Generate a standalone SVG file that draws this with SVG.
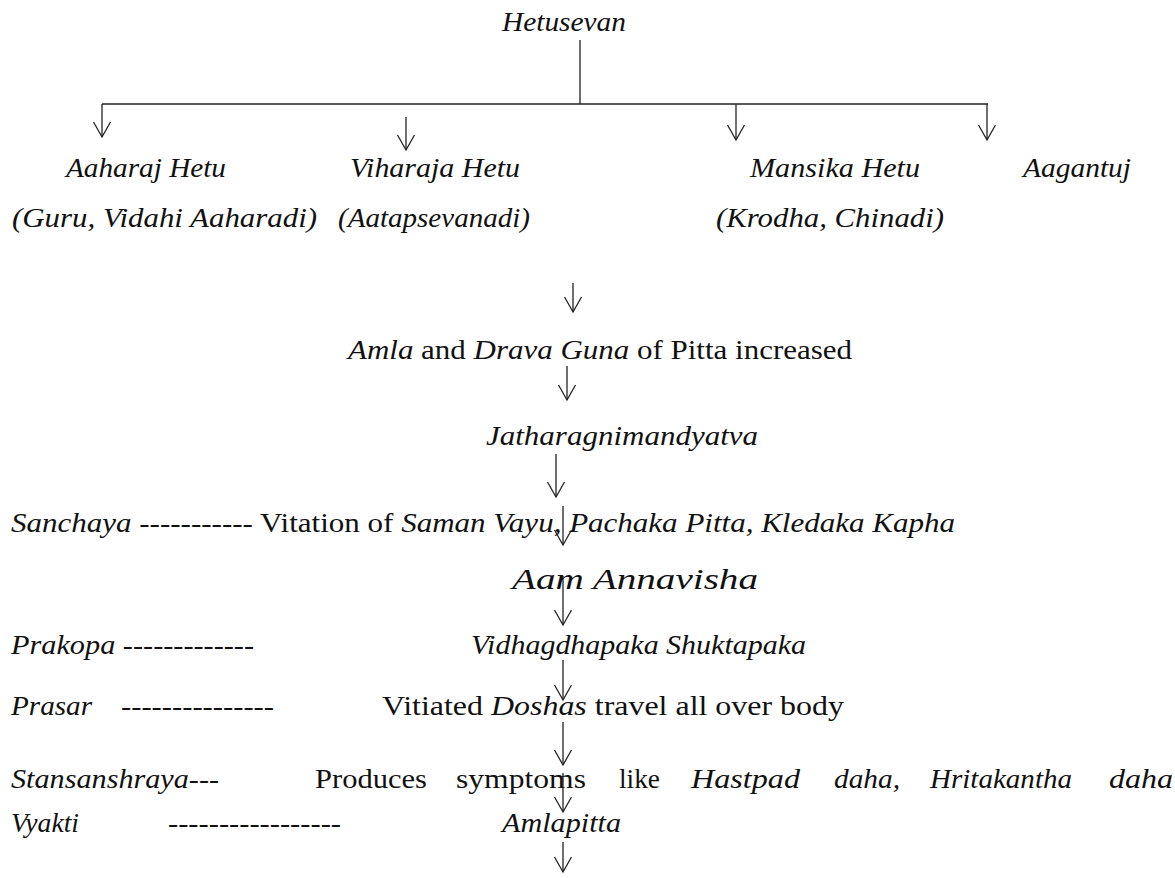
<svg xmlns="http://www.w3.org/2000/svg" width="1175" height="878" viewBox="0 0 1175 878">
<style>
.i{font-style:italic}
.r{font-style:normal}
.c{stroke:#222;stroke-width:1.3;fill:none}
</style>
<defs>
<marker id="ah" markerUnits="userSpaceOnUse" markerWidth="20" markerHeight="22" viewBox="-17 -11 19 22" refX="0" refY="0" orient="auto">
<path d="M-15,-8.5 L0,0 L-15,8.5" stroke="#222" stroke-width="1.3" fill="none"/>
</marker>
</defs>
<rect width="1175" height="878" fill="#fff"/>
<g id="connectors">
<path class="c" d="M580,40 V104 M102,104 H988"/>
<path class="c" d="M102,104 V137" marker-end="url(#ah)"/>
<path class="c" d="M406,117 V150" marker-end="url(#ah)"/>
<path class="c" d="M736,104 V140" marker-end="url(#ah)"/>
<path class="c" d="M987,104 V140" marker-end="url(#ah)"/>
<path class="c" d="M573,283 V312" marker-end="url(#ah)"/>
<path class="c" d="M567,366 V400" marker-end="url(#ah)"/>
<path class="c" d="M556,454 V497" marker-end="url(#ah)"/>
<path class="c" d="M563,506 V545" marker-end="url(#ah)"/>
<path class="c" d="M563,576 V625" marker-end="url(#ah)"/>
<path class="c" d="M563,660 V700" marker-end="url(#ah)"/>
<path class="c" d="M563,722 V765" marker-end="url(#ah)"/>
<path class="c" d="M563,773 V812" marker-end="url(#ah)"/>
<path class="c" d="M563,842 V872" marker-end="url(#ah)"/>
</g>
<g font-family="Liberation Serif, Times New Roman, serif" font-size="28" fill="#111">
<g id="n-hetusevan"><text class="i" x="502" y="31" textLength="124" lengthAdjust="spacingAndGlyphs">Hetusevan</text></g>
<g id="n-aaharaj"><text class="i" x="66" y="177" textLength="160" lengthAdjust="spacingAndGlyphs">Aaharaj Hetu</text>
<text class="i" x="12" y="227" textLength="305" lengthAdjust="spacingAndGlyphs">(Guru, Vidahi Aaharadi)</text></g>
<g id="n-viharaja"><text class="i" x="350" y="177" textLength="170" lengthAdjust="spacingAndGlyphs">Viharaja Hetu</text>
<text class="i" x="338" y="227" textLength="192" lengthAdjust="spacingAndGlyphs">(Aatapsevanadi)</text></g>
<g id="n-mansika"><text class="i" x="750" y="177" textLength="170" lengthAdjust="spacingAndGlyphs">Mansika Hetu</text>
<text class="i" x="716" y="227" textLength="228" lengthAdjust="spacingAndGlyphs">(Krodha, Chinadi)</text></g>
<g id="n-aagantuj"><text class="i" x="1023" y="177" textLength="108" lengthAdjust="spacingAndGlyphs">Aagantuj</text></g>
<g id="n-amla"><text x="348" y="359" textLength="504" lengthAdjust="spacingAndGlyphs"><tspan class="i">Amla</tspan><tspan class="r"> and </tspan><tspan class="i">Drava Guna</tspan><tspan class="r"> of Pitta increased</tspan></text></g>
<g id="n-jathar"><text class="i" x="486" y="445" textLength="272" lengthAdjust="spacingAndGlyphs">Jatharagnimandyatva</text></g>
<g id="n-sanchaya"><text x="11" y="532" textLength="944" lengthAdjust="spacingAndGlyphs"><tspan class="i">Sanchaya</tspan><tspan class="r"> ----------- Vitation of </tspan><tspan class="i">Saman Vayu, Pachaka Pitta, Kledaka Kapha</tspan></text></g>
<g id="n-aam"><text class="i" x="512" y="589" font-size="29" textLength="246" lengthAdjust="spacingAndGlyphs">Aam Annavisha</text></g>
<g id="n-prakopa"><text class="i" x="11" y="654" textLength="243" lengthAdjust="spacingAndGlyphs">Prakopa -------------</text>
<text class="i" x="471" y="654" textLength="335" lengthAdjust="spacingAndGlyphs">Vidhagdhapaka Shuktapaka</text></g>
<g id="n-prasar"><text class="i" x="11" y="715" textLength="81" lengthAdjust="spacingAndGlyphs">Prasar</text>
<text class="i" x="121" y="715" textLength="153" lengthAdjust="spacingAndGlyphs">---------------</text>
<text x="382" y="715" textLength="462" lengthAdjust="spacingAndGlyphs"><tspan class="r">Vitiated </tspan><tspan class="i">Doshas</tspan><tspan class="r"> travel all over body</tspan></text></g>
<g id="n-stansanshraya"><text class="i" x="11" y="788" textLength="208" lengthAdjust="spacingAndGlyphs">Stansanshraya---</text>
<text class="r" x="315" y="788" textLength="112" lengthAdjust="spacingAndGlyphs">Produces</text>
<text class="r" x="456" y="788" textLength="130" lengthAdjust="spacingAndGlyphs">symptoms</text>
<text class="r" x="619" y="788" textLength="41" lengthAdjust="spacingAndGlyphs">like</text>
<text class="i" x="691" y="788" textLength="109" lengthAdjust="spacingAndGlyphs">Hastpad</text>
<text class="i" x="834" y="788" textLength="66" lengthAdjust="spacingAndGlyphs">daha,</text>
<text class="i" x="930" y="788" textLength="142" lengthAdjust="spacingAndGlyphs">Hritakantha</text>
<text class="i" x="1109" y="788" textLength="64" lengthAdjust="spacingAndGlyphs">daha</text></g>
<g id="n-vyakti"><text class="i" x="11" y="832" textLength="68" lengthAdjust="spacingAndGlyphs">Vyakti</text>
<text class="i" x="168" y="832" textLength="173" lengthAdjust="spacingAndGlyphs">-----------------</text>
<text class="i" x="502" y="832" textLength="119" lengthAdjust="spacingAndGlyphs">Amlapitta</text></g>
</g>
</svg>
